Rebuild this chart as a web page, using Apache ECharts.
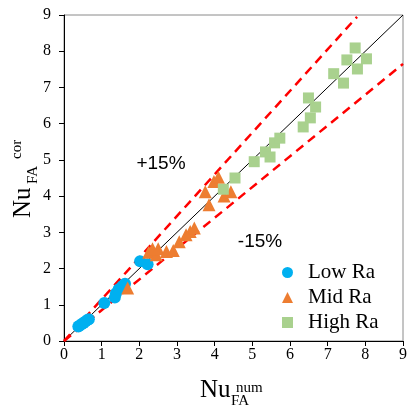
<!DOCTYPE html>
<html><head><meta charset="utf-8">
<script src="https://cdn.jsdelivr.net/npm/echarts@6/dist/echarts.min.js"></script>
<style>html,body{margin:0;padding:0;background:#fff}#c{width:410px;height:407px}</style>
</head><body><div id="c"></div>
<script>
const axisTicks = [0, 1, 2, 3, 4, 5, 6, 7, 8, 9];
const seriesNames = ['Low Ra', 'Mid Ra', 'High Ra'];
const lowX = [0.38, 0.42, 0.47, 0.52, 0.57, 0.62, 0.66, 1.07, 1.35, 1.38, 1.45, 1.55, 1.62, 2.02, 2.22];
const lowY = [0.40, 0.43, 0.47, 0.50, 0.54, 0.58, 0.60, 1.05, 1.20, 1.32, 1.43, 1.52, 1.58, 2.20, 2.12];
const midX = [1.69, 2.25, 2.35, 2.45, 2.50, 2.72, 2.90, 3.06, 3.24, 3.35, 3.46, 3.85, 3.75, 3.98, 4.10, 4.25, 4.43];
const midY = [1.46, 2.45, 2.55, 2.38, 2.55, 2.47, 2.50, 2.74, 2.93, 3.02, 3.12, 3.76, 4.12, 4.40, 4.52, 4.00, 4.12];
const highX = [4.23, 4.54, 5.05, 5.35, 5.47, 5.59, 5.73, 6.35, 6.54, 6.68, 6.49, 7.16, 7.42, 7.51, 7.73, 8.03, 7.79];
const highY = [4.19, 4.50, 4.95, 5.22, 5.08, 5.47, 5.60, 5.91, 6.16, 6.46, 6.71, 7.38, 7.12, 7.76, 8.09, 7.79, 7.51];
const parityX = [0, 9];
const parityY = [0, 9];
const upperX = [0, 7.78];
const upperY = [0, 8.95];
const lowerX = [0, 9];
const lowerY = [0, 7.65];
const bandLabels = ['+15%', '-15%'];

const zip = (xs, ys) => xs.map((x, i) => [x, ys[i]]);
const serif = '"Liberation Serif", "Times New Roman", serif';
const sans = '"Liberation Sans", Arial, sans-serif';

const chart = echarts.init(document.getElementById('c'), null, {renderer: 'canvas'});
const axisCommon = {
  type: 'value', min: axisTicks[0], max: axisTicks[axisTicks.length - 1], interval: 1,
  axisLine: {show: true, onZero: false, lineStyle: {color: '#000', width: 1}},
  axisTick: {show: true, inside: false, length: 5, lineStyle: {color: '#000'}},
  splitLine: {show: false},
  axisLabel: {color: '#000', fontFamily: serif, fontSize: 16}
};
chart.setOption({
  backgroundColor: '#fff',
  animation: false,
  grid: {left: 64, right: 5, top: 15, bottom: 66, show: true, borderColor: '#8a8a8a', borderWidth: 1, backgroundColor: 'transparent'},
  xAxis: Object.assign({}, axisCommon, {axisLabel: Object.assign({}, axisCommon.axisLabel, {margin: 6})}),
  yAxis: Object.assign({}, axisCommon, {axisLabel: Object.assign({}, axisCommon.axisLabel, {margin: 13})}),
  legend: {
    orient: 'vertical', left: 277, top: 257, itemWidth: 11, itemHeight: 11, itemGap: 4,
    data: seriesNames,
    textStyle: {fontFamily: serif, fontSize: 21, color: '#000', padding: [0, 0, 0, 10]}
  },
  series: [
    {type: 'line', data: zip(parityX, parityY), symbol: 'none', silent: true, lineStyle: {color: '#000', width: 1}, z: 1},
    {type: 'line', data: zip(upperX, upperY), symbol: 'none', silent: true, lineStyle: {color: '#ff0000', width: 2.5, type: [9, 6]}, z: 1},
    {type: 'line', data: zip(lowerX, lowerY), symbol: 'none', silent: true, lineStyle: {color: '#ff0000', width: 2.5, type: [9, 6]}, z: 1},
    {name: seriesNames[0], type: 'scatter', data: zip(lowX, lowY), symbol: 'circle', symbolSize: 12, itemStyle: {color: '#00B0F0', opacity: 1}, z: 2},
    {name: seriesNames[1], type: 'scatter', data: zip(midX, midY), symbol: 'triangle', symbolSize: 13, itemStyle: {color: '#ED7D31', opacity: 1}, z: 2},
    {name: seriesNames[2], type: 'scatter', data: zip(highX, highY), symbol: 'rect', symbolSize: 11, itemStyle: {color: '#A9D18E', opacity: 1}, z: 2}
  ],
  graphic: [
    {type: 'text', x: 161, y: 164, style: {text: bandLabels[0], font: '19px ' + sans, fill: '#000', align: 'center', verticalAlign: 'middle'}},
    {type: 'text', x: 260, y: 242, style: {text: bandLabels[1], font: '19px ' + sans, fill: '#000', align: 'center', verticalAlign: 'middle'}},
    {type: 'text', x: 200, y: 390, style: {text: 'Nu', font: '25px ' + serif, fill: '#000', align: 'left', verticalAlign: 'middle'}},
    {type: 'text', x: 231, y: 401, style: {text: 'FA', font: '15px ' + serif, fill: '#000', align: 'left', verticalAlign: 'middle'}},
    {type: 'text', x: 236, y: 388, style: {text: 'num', font: '15px ' + serif, fill: '#000', align: 'left', verticalAlign: 'middle'}},
    {type: 'text', x: 23, y: 218, rotation: Math.PI / 2, style: {text: 'Nu', font: '25px ' + serif, fill: '#000', align: 'left', verticalAlign: 'middle'}},
    {type: 'text', x: 33, y: 184, rotation: Math.PI / 2, style: {text: 'FA', font: '15px ' + serif, fill: '#000', align: 'left', verticalAlign: 'middle'}},
    {type: 'text', x: 17, y: 159, rotation: Math.PI / 2, style: {text: 'cor', font: '15px ' + serif, fill: '#000', align: 'left', verticalAlign: 'middle'}}
  ]
});
</script></body></html>
